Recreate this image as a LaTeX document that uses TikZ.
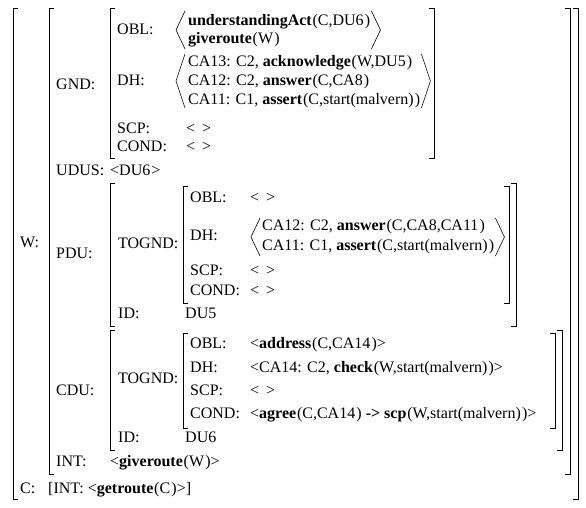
\documentclass[tikz,border=0pt]{standalone}
\usepackage{fontspec}
\setmainfont{Liberation Serif}
\newcommand\pr[2]{\textbf{#1}\kern0.8pt(#2\kern1.2pt)}
\newcommand\emp{<\kern7pt>}
\begin{document}
\begin{tikzpicture}[x=1pt,y=-1pt,
  lbl/.style={anchor=base west, inner sep=0pt, font=\fontsize{16}{19}\selectfont},
  brk/.style={line width=0.7pt},
  ang/.style={line width=0.6pt}]
\useasboundingbox (0,0) rectangle (586,508);
\newcommand\lbrk[3]{\draw[brk] (#1+5,#2) -- (#1,#2) -- (#1,#3) -- (#1+5,#3);}
\newcommand\rbrk[3]{\draw[brk] (#1-5,#2) -- (#1,#2) -- (#1,#3) -- (#1-5,#3);}
\newcommand\langl[4]{\draw[ang] (#1+9,#2) -- (#1,#3) -- (#1+9,#4);}
% right angle placed after the east end of a text node: #1 node, #2 top, #3 mid, #4 bottom
\newcommand\rangl[4]{\coordinate (#1-r) at ([xshift=1pt]#1.east);
  \draw[ang] (#1-r |- 0,#2) -- ([xshift=9pt]#1-r |- 0,#3) -- (#1-r |- 0,#4);}
% outer
\lbrk{13}{8}{499} \rbrk{578}{8}{499}
\node[lbl] (w) at (20,247) {W:};
\lbrk{49}{8}{474} \rbrk{570}{8}{474}
% GND
\node[lbl] (gnd) at (56,90) {GND:};
\lbrk{110}{8}{158} \rbrk{434}{8}{158}
\node[lbl] (gobl) at (117,35) {OBL:};
\langl{176}{11}{30}{49}
\node[lbl] (gobl1) at (188,26) {\pr{understandingAct}{C,DU6}};
\node[lbl] (gobl2) at (188,44) {\pr{giveroute}{W}};
\rangl{gobl1}{11}{30}{49}
\node[lbl] (gdh) at (117,86) {DH:};
\langl{176}{54}{81}{108}
\node[lbl] (gdh1) at (188,67) {CA13: C2, \pr{acknowledge}{W,DU5}};
\node[lbl] (gdh2) at (188,86) {CA12: C2, \pr{answer}{C,CA8}};
\node[lbl] (gdh3) at (188,105) {CA11: C1, \pr{assert}{C,start(malvern)}};
\rangl{gdh3}{54}{81}{108}
\node[lbl] (gscp) at (117,133) {SCP:};
\node[lbl] (gscpv) at (186,133) {\emp};
\node[lbl] (gcond) at (117,151) {COND:};
\node[lbl] (gcondv) at (186,151) {\emp};
% UDUS
\node[lbl] (udus) at (56,175) {UDUS:};
\node[lbl] (udusv) at (110,175) {<DU6\kern1pt>};
% PDU
\node[lbl] (pdu) at (56,258) {PDU:};
\lbrk{110}{183}{326} \rbrk{516}{183}{326}
\node[lbl] (ptog) at (118,248) {TOGND:};
\lbrk{183}{186}{303} \rbrk{509}{186}{303}
\node[lbl] (pobl) at (190,202) {OBL:};
\node[lbl] (poblv) at (250,202) {\emp};
\node[lbl] (pdh) at (190,240) {DH:};
\langl{251}{218}{237}{256}
\node[lbl] (pdh1) at (262,230) {CA12: C2, \pr{answer}{C,CA8,CA11}};
\node[lbl] (pdh2) at (262,250) {CA11: C1, \pr{assert}{C,start(malvern)}};
\rangl{pdh2}{218}{237}{256}
\node[lbl] (pscp) at (190,275) {SCP:};
\node[lbl] (pscpv) at (250,275) {\emp};
\node[lbl] (pcond) at (190,295) {COND:};
\node[lbl] (pcondv) at (250,295) {\emp};
\node[lbl] (pid) at (118,318) {ID:};
\node[lbl] (pidv) at (185,318) {DU5};
% CDU
\node[lbl] (cdu) at (56,395) {CDU:};
\lbrk{110}{330}{450} \rbrk{562}{330}{450}
\node[lbl] (ctog) at (118,383) {TOGND:};
\lbrk{183}{333}{428} \rbrk{555}{333}{428}
\node[lbl] (cobl) at (190,348) {OBL:};
\node[lbl] (coblv) at (250,348) {<\pr{address}{C,CA14}>};
\node[lbl] (cdh) at (190,372) {DH:};
\node[lbl] (cdhv) at (250,372) {<CA14: C2, \pr{check}{W,start(malvern)}>};
\node[lbl] (cscp) at (190,395) {SCP:};
\node[lbl] (cscpv) at (250,395) {\emp};
\node[lbl] (ccond) at (190,418) {COND:};
\node[lbl] (ccondv) at (250,418) {<\pr{agree}{C,CA14} \textbf{->} \pr{scp}{W,start(malvern)}>};
\node[lbl] (cid) at (118,442) {ID:};
\node[lbl] (cidv) at (185,442) {DU6};
% INT
\node[lbl] (int) at (56,466) {INT:};
\node[lbl] (intv) at (110,466) {<\pr{giveroute}{W}>};
% C
\node[lbl] (c) at (20,493) {C:};
\node[lbl] (cv) at (48,493) {[INT: <\pr{getroute}{C}>]};
\end{tikzpicture}
\end{document}
